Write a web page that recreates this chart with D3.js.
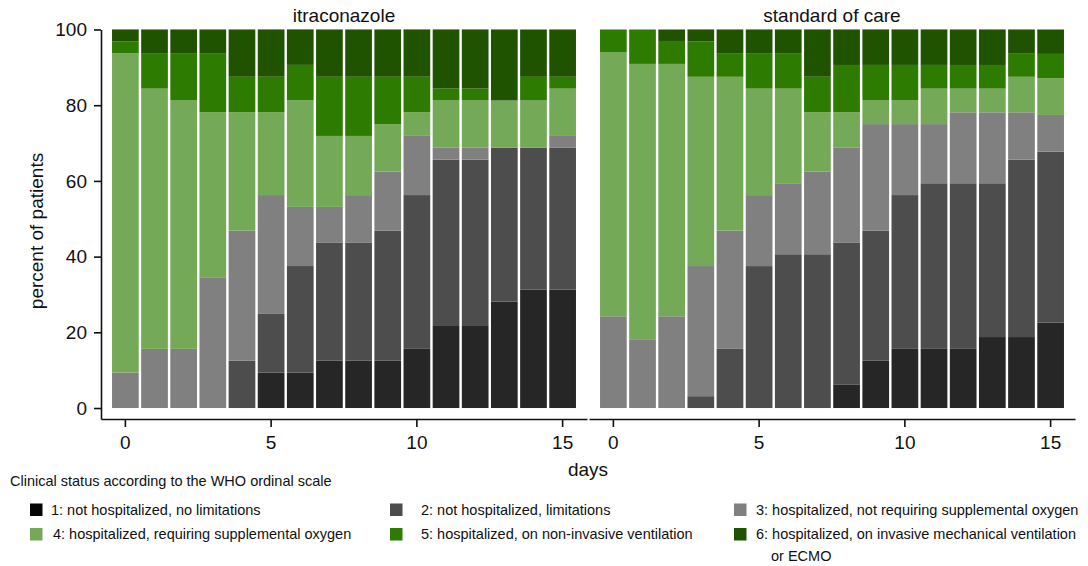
<!DOCTYPE html>
<html>
<head>
<meta charset="utf-8">
<script src="https://cdn.jsdelivr.net/npm/d3@7/dist/d3.min.js"></script>
<style>
  body { margin: 0; background: #fff; }
  text { font-family: "Liberation Sans", Arial, sans-serif; fill: #111; }
  .axis path, .axis line { stroke: #111; stroke-width: 1.6; }
</style>
</head>
<body>
<div id="chart"></div>
<script>
// Días y categorías (escala ordinal de la OMS)
const days = [0, 1, 2, 3, 4, 5, 6, 7, 8, 9, 10, 11, 12, 13, 14, 15];
const keys = ['s1', 's2', 's3', 's4', 's5', 's6'];
const legendLabels = [
  '1: not hospitalized, no limitations',
  '2: not hospitalized, limitations',
  '3: hospitalized, not requiring supplemental oxygen',
  '4: hospitalized, requiring supplemental oxygen',
  '5: hospitalized, on non-invasive ventilation',
  '6: hospitalized, on invasive mechanical ventilation\nor ECMO'
];
const COLORS = ['#262626', '#4d4d4d', '#808080', '#74aa57', '#2d7b00', '#1f5300'];
const yTicks = [0, 20, 40, 60, 80, 100];
const xTicks = [0, 5, 10, 15];

// Itraconazol (% de pacientes por día)
const itra1 = [0, 0, 0, 0, 0, 9.38, 9.38, 12.5, 12.5, 12.5, 15.63, 21.88, 21.88, 28.13, 31.25, 31.25];
const itra2 = [0, 0, 0, 0, 12.5, 15.63, 28.13, 31.25, 31.25, 34.38, 40.63, 43.75, 43.75, 40.63, 37.5, 37.5];
const itra3 = [9.38, 15.63, 15.63, 34.38, 34.38, 31.25, 15.63, 9.38, 12.5, 15.63, 15.63, 3.13, 3.13, 0, 0, 3.13];
const itra4 = [84.38, 68.75, 65.63, 43.75, 31.25, 21.88, 28.13, 18.75, 15.63, 12.5, 6.25, 12.5, 12.5, 12.5, 12.5, 12.5];
const itra5 = [3.13, 9.38, 12.5, 15.63, 9.38, 9.38, 9.38, 15.63, 15.63, 12.5, 9.38, 3.13, 3.13, 0, 6.25, 3.13];
const itra6 = [3.13, 6.25, 6.25, 6.25, 12.5, 12.5, 9.38, 12.5, 12.5, 12.5, 12.5, 15.63, 15.63, 18.75, 12.5, 12.5];

// Tratamiento estándar (% de pacientes por día)
const soc1 = [0, 0, 0, 0, 0, 0, 0, 0, 6.25, 12.5, 15.63, 15.63, 15.63, 18.75, 18.75, 22.58];
const soc2 = [0, 0, 0, 3.13, 15.63, 37.5, 40.63, 40.63, 37.5, 34.38, 40.63, 43.75, 43.75, 40.63, 46.88, 45.16];
const soc3 = [24.24, 18.18, 24.24, 34.38, 31.25, 18.75, 18.75, 21.88, 25, 28.13, 18.75, 15.63, 18.75, 18.75, 12.5, 9.68];
const soc4 = [69.7, 72.73, 66.67, 50, 40.63, 28.13, 25, 15.63, 9.38, 6.25, 6.25, 9.38, 6.25, 6.25, 9.38, 9.68];
const soc5 = [6.06, 9.09, 6.06, 9.38, 6.25, 9.38, 9.38, 9.38, 12.5, 9.38, 9.38, 6.25, 6.25, 6.25, 6.25, 6.45];
const soc6 = [0, 0, 3.03, 3.13, 6.25, 6.25, 6.25, 12.5, 9.38, 9.38, 9.38, 9.38, 9.38, 9.38, 6.25, 6.45];

function buildRows(series) {
  return days.map(function(d, i) {
    let row = { day: d };
    keys.forEach(function(k, j) { row[k] = series[j][i]; });
    return row;
  });
}

const panels = [
  { title: 'itraconazole', left: 101, rows: buildRows([itra1, itra2, itra3, itra4, itra5, itra6]), yAxis: true },
  { title: 'standard of care', left: 589, rows: buildRows([soc1, soc2, soc3, soc4, soc5, soc6]), yAxis: false }
];

const width = 1088, height = 566;
const panelWidth = 486;

let svg = d3.select('#chart')
  .append('svg')
    .attr('width', width)
    .attr('height', height);

let y = d3.scaleLinear()
  .domain([-2.9, 100])
  .range([419, 29.5]);

let color = d3.scaleOrdinal().domain(keys).range(COLORS);
let stack = d3.stack().keys(keys);

panels.forEach(function(p) {
  let x = d3.scaleBand()
    .domain(days)
    .range([p.left, p.left + panelWidth])
    .paddingInner(0.084)
    .paddingOuter(0.378);

  let g = svg.append('g');

  g.selectAll('g.layer')
    .data(stack(p.rows))
    .enter()
    .append('g')
      .attr('class', 'layer')
      .attr('fill', function(d) { return color(d.key); })
    .selectAll('rect')
    .data(function(d) { return d; })
    .enter()
    .append('rect')
      .attr('x', function(d) { return x(d.data.day); })
      .attr('y', function(d) { return y(d[1]); })
      .attr('width', x.bandwidth())
      .attr('height', function(d) { return Math.max(0, y(d[0]) - y(d[1])); });

  g.append('g')
    .attr('class', 'axis')
    .attr('transform', 'translate(0,419)')
    .call(d3.axisBottom(x).tickValues(xTicks).tickSize(8).tickSizeOuter(0).tickPadding(9))
    .call(function(a) { a.selectAll('text').style('font-size', '19px').attr('fill', '#111'); });

  if (p.yAxis) {
    g.append('g')
      .attr('class', 'axis')
      .attr('transform', 'translate(' + p.left + ',0)')
      .call(d3.axisLeft(y).tickValues(yTicks).tickSize(7).tickSizeOuter(0).tickPadding(7))
      .call(function(a) { a.selectAll('text').style('font-size', '19px').attr('fill', '#111'); });
  }

  g.append('text')
    .attr('x', p.left + panelWidth / 2)
    .attr('y', 21.5)
    .attr('text-anchor', 'middle')
    .style('font-size', '19px')
    .text(p.title);
});

// Títulos de ejes
svg.append('text')
  .attr('transform', 'translate(36,231) rotate(-90)')
  .attr('dy', '0.35em')
  .attr('text-anchor', 'middle')
  .style('font-size', '19px')
  .text('percent of patients');

svg.append('text')
  .attr('x', 588)
  .attr('y', 476)
  .attr('text-anchor', 'middle')
  .style('font-size', '19px')
  .text('days');

// Leyenda
const legendSquareX = [30, 390, 734];
const legendTextX = [51, 421, 756, 53, 421, 756];
const legendRowY = [509.5, 534];

svg.append('text')
  .attr('x', 10)
  .attr('y', 486)
  .style('font-size', '14.5px')
  .text('Clinical status according to the WHO ordinal scale');

let legend = svg.selectAll('g.legend')
  .data(keys)
  .enter()
  .append('g')
    .attr('class', 'legend');

legend.append('rect')
  .attr('x', function(d, i) { return legendSquareX[i % 3]; })
  .attr('y', function(d, i) { return legendRowY[Math.floor(i / 3)] - 6; })
  .attr('width', 12.5)
  .attr('height', 12.5)
  .attr('fill', function(d, i) { return i === 0 ? '#050505' : color(d); });

legend.append('text')
  .style('font-size', '14.5px')
  .attr('y', function(d, i) { return legendRowY[Math.floor(i / 3)] + 5; })
  .each(function(d, i) {
    let lines = legendLabels[i].split('\n');
    let t = d3.select(this);
    lines.forEach(function(line, j) {
      t.append('tspan')
        .attr('x', legendTextX[i] + (j > 0 ? 15 : 0))
        .attr('dy', j > 0 ? 22 : 0)
        .text(line);
    });
  });
</script>
</body>
</html>
